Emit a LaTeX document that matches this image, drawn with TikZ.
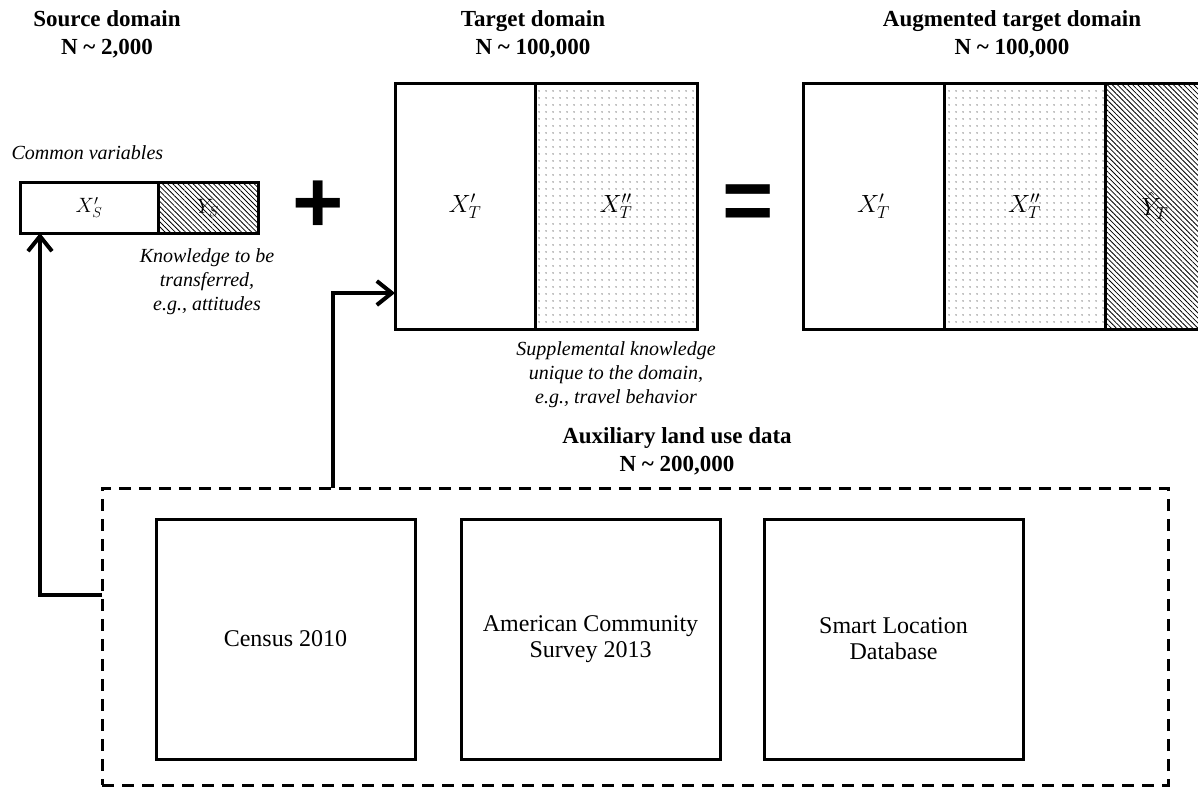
\documentclass[tikz,border=0pt]{standalone}
\usepackage{fontspec}
\setmainfont{Liberation Serif}
\newfontfamily\signfont{Liberation Sans}
\usetikzlibrary{positioning,patterns.meta,arrows.meta}

\begin{document}
\begin{tikzpicture}[x=1pt,y=-1pt,
    cell/.style={draw,line width=3pt,inner sep=0pt,outer sep=0pt,minimum height=246pt,font=\fontsize{24}{24}\selectfont},
    smallcell/.style={cell,minimum height=51pt,font=\fontsize{22}{22}\selectfont},
    dotfill/.style={pattern={Dots[radius=0.6pt,distance=6.5pt]}},
    hatchfill/.style={pattern={Lines[angle=-45,distance=3.6pt,line width=0.8pt]}},
    databox/.style={draw,line width=3pt,inner sep=0pt,outer sep=0pt,minimum width=259pt,minimum height=240pt,align=center,font=\fontsize{24}{26}\selectfont},
    title/.style={align=center,font=\fontsize{23}{28}\selectfont\bfseries},
    note/.style={align=center,font=\fontsize{20}{24}\selectfont\itshape},
    sign/.style={font=\fontsize{88}{88}\selectfont\signfont\bfseries,inner sep=0pt},
    wire/.style={line width=4pt,-{Straight Barb[length=15pt,width=24pt,line width=4pt]}}]
        \useasboundingbox (0,0) rectangle (1198,790);
        % Paths, nodes and wires:
        \draw node[title] (H1) at (107,34) {Source domain\\N \textasciitilde{} 2,000};
        \draw node[title] (H2) at (533,34) {Target domain\\N \textasciitilde{} 100,000};
        \draw node[title] (H3) at (1012,34) {Augmented target domain\\N \textasciitilde{} 100,000};
        \draw node[title] (H4) at (677,451) {Auxiliary land use data\\N \textasciitilde{} 200,000};
        \draw node[note,anchor=west] (C1) at (8,153) {Common variables};
        \draw node[smallcell,minimum width=138pt] (S1) at (89,207.5) {$X'_S$};
        \draw node[smallcell,hatchfill,minimum width=100pt,right=0pt of S1] (S2) {$Y_S$};
        \draw node[note] (C2) at (207,282) {Knowledge to be\\transferred,\\e.g., attitudes};
        \draw node[sign] (P1) at (318,207) {+};
        \draw node[cell,minimum width=140pt] (T1) at (465,206) {$X'_T$};
        \draw node[cell,dotfill,minimum width=162pt,right=0pt of T1] (T2) {$X''_T$};
        \draw node[note] (C3) at (616,375) {Supplemental knowledge\\unique to the domain,\\e.g., travel behavior};
        \draw node[sign] (P2) at (748,208) {=};
        \draw node[cell,minimum width=141pt] (A1) at (873.5,206) {$X'_T$};
        \draw node[cell,dotfill,minimum width=161pt,right=0pt of A1] (A2) {$X''_T$};
        \draw node[cell,hatchfill,minimum width=100pt,right=0pt of A2] (A3) {$\hat{Y}_T$};
        \draw node[draw,dash pattern=on 12pt off 8pt,line width=3pt,inner sep=0pt,outer sep=0pt,minimum width=1066pt,minimum height=297pt] (AUX) at (635,636.5) {};
        \draw node[databox] (D1) at (285.5,639) {Census 2010};
        \draw node[databox,right=46pt of D1] (D2) {American Community\\Survey 2013};
        \draw node[databox,right=44pt of D2] (D3) {Smart Location\\Database};
        \draw[wire] ([yshift=41.5pt]AUX.west) -| ([xshift=20pt]S1.south west);
        \draw[wire] ([xshift=231pt]AUX.north west) |- ([yshift=-87pt]T1.west);
      \end{tikzpicture}
\end{document}
